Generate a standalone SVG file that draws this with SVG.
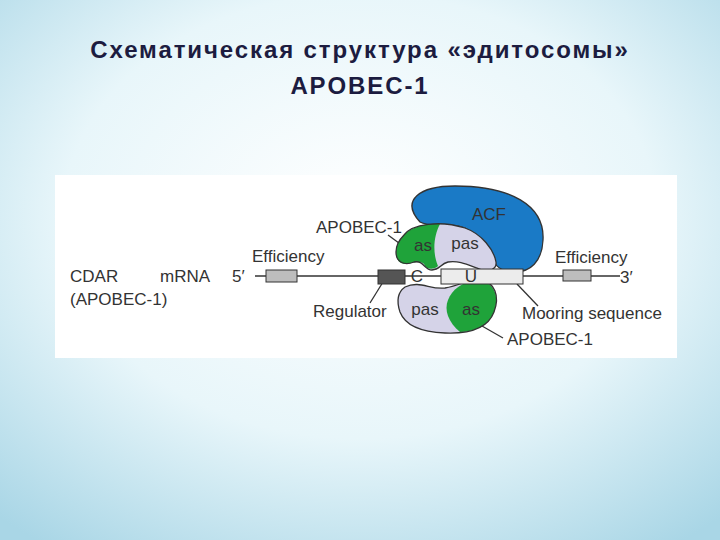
<svg xmlns="http://www.w3.org/2000/svg" width="720" height="540" viewBox="0 0 720 540">
<defs>
<radialGradient id="bg" cx="0.5" cy="0.4" r="0.75">
<stop offset="0" stop-color="#ffffff"/><stop offset="0.55" stop-color="#e8f6fa"/><stop offset="1" stop-color="#a9d6e6"/>
</radialGradient>
<style>
.t{font-family:"Liberation Sans",Arial,sans-serif;font-size:17px;fill:#333}
.h{font-family:"Liberation Sans",Arial,sans-serif;font-size:24px;font-weight:bold;fill:#1c1c40;letter-spacing:1.9px}
.ln{stroke:#333;stroke-width:1.3;fill:none}
.bx{stroke:#333;stroke-width:1}
</style>
</defs>
<rect width="720" height="540" fill="url(#bg)"/>
<text class="h" x="360" y="58" text-anchor="middle">Схематическая структура «эдитосомы»</text>
<text class="h" x="360" y="94" text-anchor="middle">APOBEC-1</text>
<rect x="55" y="175" width="622" height="183" fill="#fff"/>
<g id="connectors">
<line class="ln" x1="255" y1="276" x2="620" y2="276"/>
<line class="ln" x1="388" y1="235" x2="403" y2="246"/>
<line class="ln" x1="370" y1="303" x2="383" y2="282"/>
<line class="ln" x1="517" y1="284" x2="538" y2="306"/>
<line class="ln" x1="475" y1="322" x2="503" y2="338"/>
</g>
<g id="acf">
<path d="M420,222 C400,200 420,186 455,186 C510,186 545,205 543,240 C542,262 530,272 515,272 C505,272 496,268 495,262 C490,250 480,236 465,228 C450,222 430,228 420,222 Z" fill="#1a7ac6" stroke="#333" stroke-width="1.3"/>
<text class="t" x="489" y="220" text-anchor="middle">ACF</text>
</g>
<g id="apobec_top">
<path d="M404,235 C412,224 440,220 465,228 C482,234 494,250 496,262 C497,270 488,272 482,270 C470,266 460,260 448,262 C440,264 440,270 432,270 C424,270 424,260 414,262 C404,266 396,262 396,252 C396,246 399,240 404,235 Z" fill="#d5d3e8"/>
<path d="M404,235 C410,228 425,223 440,224 C434,235 432,252 438,266 C434,270 426,270 424,264 C420,260 412,263 406,264 C398,264 396,258 396,252 C396,246 399,240 404,235 Z" fill="#1fa33a"/>
<path d="M404,235 C412,224 440,220 465,228 C482,234 494,250 496,262 C497,270 488,272 482,270 C470,266 460,260 448,262 C440,264 440,270 432,270 C424,270 424,260 414,262 C404,266 396,262 396,252 C396,246 399,240 404,235 Z" fill="none" stroke="#333" stroke-width="1.3"/>
<text class="t" x="423" y="251" text-anchor="middle">as</text>
<text class="t" x="465" y="249" text-anchor="middle">pas</text>
</g>
<g id="apobec_bottom">
<path d="M405,287 C420,280 430,290 445,288 C462,285 470,278 480,280 C495,282 500,296 494,312 C488,328 470,334 445,333 C420,332 405,325 400,312 C396,300 398,292 405,287 Z" fill="#d5d3e8"/>
<path d="M448,300 C452,290 462,281 478,280 C494,282 500,296 494,312 C488,326 475,332 460,332 C448,322 444,310 448,300 Z" fill="#1fa33a"/>
<path d="M405,287 C420,280 430,290 445,288 C462,285 470,278 480,280 C495,282 500,296 494,312 C488,328 470,334 445,333 C420,332 405,325 400,312 C396,300 398,292 405,287 Z" fill="none" stroke="#333" stroke-width="1.3"/>
<text class="t" x="425" y="315" text-anchor="middle">pas</text>
<text class="t" x="471" y="315" text-anchor="middle">as</text>
</g>
<g id="eff5"><rect class="bx" x="266" y="270" width="31" height="12" fill="#bdbdbd"/></g>
<g id="regulator"><rect class="bx" x="378" y="270" width="27" height="14" fill="#555"/></g>
<g id="c"><text class="t" x="417" y="282" text-anchor="middle">C</text></g>
<g id="mooring"><rect class="bx" x="441" y="269" width="82" height="15" fill="#ececec"/><text class="t" x="471" y="282" text-anchor="middle">U</text></g>
<g id="eff3"><rect class="bx" x="563" y="270" width="28" height="11" fill="#bdbdbd"/></g>
<g id="labels">
<text class="t" x="70" y="282">CDAR</text>
<text class="t" x="160" y="282">mRNA</text>
<text class="t" x="70" y="305">(APOBEC-1)</text>
<text class="t" x="232" y="282">5′</text>
<text class="t" x="620" y="283">3′</text>
<text class="t" x="252" y="262">Efficiency</text>
<text class="t" x="555" y="263">Efficiency</text>
<text class="t" x="316" y="233">APOBEC-1</text>
<text class="t" x="313" y="317">Regulator</text>
<text class="t" x="522" y="319">Mooring sequence</text>
<text class="t" x="507" y="345">APOBEC-1</text>
</g>
</svg>
